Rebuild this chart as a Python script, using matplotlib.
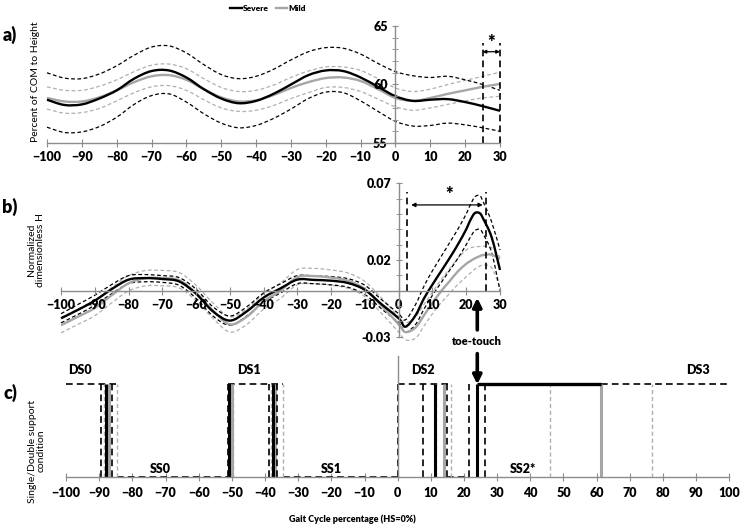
import matplotlib
matplotlib.use('Agg')
import matplotlib.pyplot as plt
from matplotlib.ticker import MultipleLocator, FixedLocator, FixedFormatter
from matplotlib.path import Path
from matplotlib.patches import PathPatch

plt.rcParams['font.family'] = ['Lato', 'DejaVu Sans']
plt.rcParams['font.weight'] = 'heavy'

# ---------------- data: panel a (COM height, % of height) ----------------
x_a = [-100, -95, -90, -85, -80, -75, -70, -65, -60, -55, -50, -45, -40, -35,
       -30, -25, -20, -15, -10, -5, 0, 5, 10, 15, 20, 25, 30]
severe_a = [58.7, 58.25, 58.3, 58.8, 59.5, 60.5, 61.15, 61.2, 60.6, 59.6, 58.8, 58.4, 58.6, 59.2,
            60.0, 60.8, 61.2, 61.15, 60.6, 59.8, 59.0, 58.6, 58.7, 58.75, 58.5, 58.15, 57.75]
severe_a_hi = [61.0, 60.55, 60.5, 60.9, 61.6, 62.5, 63.2, 63.3, 62.7, 61.7, 60.85, 60.5, 60.7, 61.3,
               62.1, 62.8, 63.15, 63.1, 62.6, 61.8, 61.1, 60.75, 60.6, 60.7, 60.4, 60.0, 59.5]
severe_a_lo = [56.35, 55.9, 55.95, 56.4, 57.2, 58.3, 59.05, 59.2, 58.5, 57.5, 56.7, 56.3, 56.5, 57.1,
               57.9, 58.8, 59.35, 59.3, 58.6, 57.7, 56.85, 56.45, 56.5, 56.7, 56.55, 56.3, 56.0]
mild_a = [58.85, 58.55, 58.55, 58.9, 59.5, 60.2, 60.7, 60.8, 60.4, 59.6, 58.9, 58.55, 58.65, 59.1,
          59.7, 60.2, 60.55, 60.6, 60.3, 59.6, 58.85, 58.6, 58.85, 59.2, 59.5, 59.8, 60.05]
mild_a_hi = [59.8, 59.5, 59.5, 59.85, 60.4, 61.1, 61.65, 61.75, 61.35, 60.5, 59.75, 59.4, 59.5, 59.95,
             60.6, 61.15, 61.5, 61.5, 61.2, 60.5, 59.7, 59.4, 59.6, 60.0, 60.35, 60.7, 61.05]
mild_a_lo = [57.9, 57.55, 57.6, 57.95, 58.6, 59.3, 59.8, 59.9, 59.5, 58.7, 58.0, 57.7, 57.8, 58.2,
             58.8, 59.3, 59.75, 59.75, 59.4, 58.75, 58.1, 57.8, 58.0, 58.3, 58.6, 58.85, 59.0]
sig_a = [25, 30]          # significant interval in panel a

# ---------------- data: panel b (normalized dimensionless H) ----------------
x_b = [-100, -95, -90, -85, -80, -75, -70, -65, -60, -55, -50, -45, -40, -35, -30, -25, -20,
       -15, -10, -5, 0, 2, 5, 7.5, 10, 12.5, 15, 17.5, 20, 21, 22.5, 24, 25, 27.5, 30]
severe_b = [-0.018, -0.0125, -0.0065, 0.001, 0.0072, 0.0082, 0.0076, 0.006, -0.002, -0.0135,
            -0.0195, -0.0135, -0.0045, 0.0015, 0.0072, 0.007, 0.0065, 0.005, 0.0005, -0.009,
            -0.018, -0.0235, -0.016, -0.005, 0.004, 0.0125, 0.021, 0.030, 0.040, 0.045, 0.0505,
            0.0505, 0.047, 0.035, 0.0135]
severe_b_hi = [-0.015, -0.009, -0.003, 0.004, 0.0098, 0.0105, 0.0098, 0.0085, 0.001, -0.0105,
               -0.0165, -0.0105, -0.0015, 0.0045, 0.0098, 0.0096, 0.0092, 0.0078, 0.0035, -0.006,
               -0.015, -0.019, -0.009, 0.003, 0.013, 0.022, 0.031, 0.040, 0.050, 0.055, 0.061,
               0.062, 0.058, 0.045, 0.0265]
severe_b_lo = [-0.021, -0.0155, -0.0095, -0.002, 0.0046, 0.0058, 0.0054, 0.0035, -0.005, -0.0165,
               -0.0225, -0.0165, -0.0075, -0.0015, 0.0046, 0.0045, 0.0038, 0.0022, -0.0025, -0.012,
               -0.021, -0.027, -0.022, -0.012, -0.003, 0.005, 0.013, 0.021, 0.030, 0.034, 0.039,
               0.040, 0.037, 0.025, 0.0]
mild_b = [-0.0225, -0.017, -0.0113, -0.003, 0.0048, 0.0081, 0.0082, 0.0068, -0.0015, -0.013,
          -0.022, -0.017, -0.007, 0.0, 0.0088, 0.0095, 0.0085, 0.0065, 0.001, -0.01,
          -0.022, -0.027, -0.024, -0.016, -0.008, -0.0005, 0.006, 0.0125, 0.0175, 0.019, 0.021,
          0.0225, 0.0232, 0.0235, 0.0207]
mild_b_hi = [-0.0175, -0.012, -0.0063, 0.002, 0.0098, 0.0131, 0.0132, 0.0118, 0.0035, -0.008,
             -0.017, -0.012, -0.002, 0.005, 0.0138, 0.0145, 0.0135, 0.0115, 0.006, -0.005,
             -0.017, -0.021, -0.017, -0.009, -0.001, 0.007, 0.014, 0.021, 0.0265, 0.0278, 0.0285,
             0.0288, 0.029, 0.028, 0.022]
mild_b_lo = [-0.0275, -0.022, -0.0163, -0.008, -0.0002, 0.0031, 0.0032, 0.0018, -0.0065, -0.018,
             -0.027, -0.022, -0.012, -0.005, 0.0038, 0.0045, 0.0035, 0.0015, -0.004, -0.015,
             -0.027, -0.032, -0.031, -0.023, -0.015, -0.008, -0.002, 0.004, 0.009, 0.011, 0.014,
             0.016, 0.0167, 0.015, 0.002]
sig_b = [2.6, 26]         # significant interval in panel b

# ---------------- data: panel c (support-phase transitions, % gait cycle) ----------------
c_sev_mean = [-88.0, -51.0, -37.7, 11.2, 24.0]
c_sev_lo = [-89.5, -51.3, -38.7, 7.7, 21.4]
c_sev_hi = [-86.1, -50.7, -36.3, 14.8, 26.4]
c_mild_mean = [-87.1, -50.1, -36.9, 14.0, 61.2]
c_mild_lo = [-88.5, -50.4, -38.2, 11.6, 46.0]
c_mild_hi = [-84.7, -49.6, -34.7, 16.1, 76.6]
heel_strike = 0
phase_labels = ['DS0', 'SS0', 'DS1', 'SS1', 'DS2', 'SS2*', 'DS3']
phase_label_x = [-95.8, -71.6, -45.0, -19.9, 7.7, 37.9, 90.6]
phase_label_level = [1, 0, 1, 0, 1, 0, 1]

# ---------------- style ----------------
W, H = 740, 526
AX = '#8c8c8c'
BLK = 'black'
GRY = '#a6a6a6'
GRYD = '#b0b0b0'
DASH = (0, (3, 2))
DASHC = (0, (4, 2.5))

fig = plt.figure(figsize=(W / 100, H / 100), dpi=100)


def box(l, r, t, b):
    return [l / W, 1 - b / H, (r - l) / W, (b - t) / H]


def style_axes(ax):
    for s in ['top', 'right']:
        ax.spines[s].set_visible(False)
    for s in ['left', 'bottom']:
        ax.spines[s].set_color(AX)
        ax.spines[s].set_linewidth(1.0)
    ax.patch.set_alpha(0)


def smooth_line(ax, x, y, **kw):
    """Excel-style smoothed line: cubic Bezier segments through the data points."""
    n = len(x)
    verts = [(x[0], y[0])]
    codes = [Path.MOVETO]
    for i in range(n - 1):
        p0 = (x[i - 1], y[i - 1]) if i > 0 else (x[i], y[i])
        p1 = (x[i], y[i])
        p2 = (x[i + 1], y[i + 1])
        p3 = (x[i + 2], y[i + 2]) if i + 2 < n else p2
        c1 = (p1[0] + (p2[0] - p0[0]) / 6, p1[1] + (p2[1] - p0[1]) / 6)
        c2 = (p2[0] - (p3[0] - p1[0]) / 6, p2[1] - (p3[1] - p1[1]) / 6)
        verts += [c1, c2, p2]
        codes += [Path.CURVE4] * 3
    patch = PathPatch(Path(verts, codes), fill=False, clip_on=False,
                      capstyle='butt', joinstyle='round', **kw)
    ax.add_patch(patch)
    return patch


# ================= panel a =================
ax_a = fig.add_axes(box(47, 500, 26, 143))
style_axes(ax_a)
ax_a.set_xlim(-100, 30)
ax_a.set_ylim(55, 65)
ax_a.spines['left'].set_position(('data', 0))
ax_a.set_xticks(range(-100, 31, 10))
ax_a.set_yticks([55, 60, 65])
ax_a.yaxis.set_minor_locator(MultipleLocator(1))
ax_a.tick_params(axis='x', direction='inout', length=6, color=AX, labelsize=9, pad=3)
ax_a.tick_params(axis='y', which='both', direction='inout', length=5, color=AX, labelsize=9, pad=3)

for y in (mild_a_hi, mild_a_lo):
    smooth_line(ax_a, x_a, y, edgecolor=GRYD, lw=0.9, linestyle=DASH)
for y in (severe_a_hi, severe_a_lo):
    smooth_line(ax_a, x_a, y, edgecolor=BLK, lw=0.9, linestyle=DASH)
smooth_line(ax_a, x_a, mild_a, edgecolor=GRY, lw=1.7)
smooth_line(ax_a, x_a, severe_a, edgecolor=BLK, lw=1.7)
l_sev, = ax_a.plot([], [], color=BLK, lw=1.7)
l_mild, = ax_a.plot([], [], color=GRY, lw=1.7)

ax_a.vlines(sig_a, 55, 63.55, colors=BLK, lw=1.2, linestyles=DASHC, clip_on=False)
ax_a.annotate('', xy=(sig_a[0], 62.8), xytext=(sig_a[1], 62.8),
              arrowprops=dict(arrowstyle='<|-|>', lw=0.9, color=BLK, mutation_scale=5,
                              shrinkA=0, shrinkB=0), annotation_clip=False)
ax_a.text(sum(sig_a) / 2, 63.6, '*', ha='center', va='center', fontsize=13)
ax_a.set_ylabel('Percent of COM to Height', fontsize=7.5)
ax_a.yaxis.set_label_coords((40 - 47) / 453, (143 - 82) / 117)

fig.legend(handles=[l_sev, l_mild], labels=['Severe', 'Mild'], loc='upper center',
           bbox_to_anchor=(268 / W, 1.005), ncol=2, frameon=False, fontsize=6,
           handlelength=1.4, handletextpad=0.15, columnspacing=0.8)

# ================= panel b =================
ax_b = fig.add_axes(box(61, 500, 183.3, 336.7))
style_axes(ax_b)
ax_b.set_xlim(-100, 30)
ax_b.set_ylim(-0.03, 0.07)
ax_b.spines['left'].set_position(('data', 0))
ax_b.spines['bottom'].set_position(('data', 0))
ax_b.set_xticks(range(-100, 31, 10))
ax_b.yaxis.set_major_locator(FixedLocator([-0.03, 0.02, 0.07]))
ax_b.yaxis.set_major_formatter(FixedFormatter(['-0.03', '0.02', '0.07']))
ax_b.yaxis.set_minor_locator(MultipleLocator(0.01))
ax_b.tick_params(axis='x', direction='inout', length=6, color=AX, labelsize=9, pad=3)
ax_b.tick_params(axis='y', which='both', direction='inout', length=5, color=AX, labelsize=9, pad=3)

for y in (mild_b_hi, mild_b_lo):
    smooth_line(ax_b, x_b, y, edgecolor=GRYD, lw=0.9, linestyle=DASH)
for y in (severe_b_hi, severe_b_lo):
    smooth_line(ax_b, x_b, y, edgecolor=BLK, lw=0.9, linestyle=DASH)
smooth_line(ax_b, x_b, mild_b, edgecolor=GRY, lw=1.7)
smooth_line(ax_b, x_b, severe_b, edgecolor=BLK, lw=1.7)

ax_b.vlines(sig_b, 0, 0.0645, colors=BLK, lw=1.2, linestyles=DASHC, clip_on=False)
ax_b.annotate('', xy=(sig_b[0] + 1.1, 0.0559), xytext=(sig_b[1] - 1.1, 0.0559),
              arrowprops=dict(arrowstyle='<|-|>', lw=0.9, color=BLK, mutation_scale=6,
                              shrinkA=0, shrinkB=0), annotation_clip=False)
ax_b.text(14.9, 0.0625, '*', ha='center', va='center', fontsize=13)
ax_b.set_ylabel('Normalized\ndimensionless H', fontsize=7.5, linespacing=1.0)
ax_b.yaxis.set_label_coords((45 - 61) / 439, (336.7 - 250) / 153.4)

# ================= panel c =================
ax_c = fig.add_axes(box(66.1, 729.3, 356.4, 477.3))
style_axes(ax_c)
ax_c.set_xlim(-100, 100)
ax_c.set_ylim(0, 1.3)
ax_c.spines['left'].set_position(('data', 0))
ax_c.set_yticks([])
ax_c.set_xticks(range(-100, 101, 10))
ax_c.tick_params(axis='x', direction='inout', length=6, color=AX, labelsize=9, pad=4)

sev_all = [c_sev_mean, c_sev_lo, c_sev_hi]
mild_all = [c_mild_mean, c_mild_lo, c_mild_hi]
all_tr = sev_all + mild_all
first_hi = max(t[0] for t in all_tr)
second_lo = min(t[1] for t in all_tr)
third_hi = max(t[2] for t in all_tr)
fourth_hi = max(t[3] for t in sev_all)
fifth_lo = min(t[4] for t in sev_all)

# horizontal envelope (dashed)
ax_c.hlines(1, -100, first_hi, colors=BLK, lw=1.2, linestyles=DASHC, clip_on=False)
ax_c.hlines(0, first_hi, second_lo, colors=BLK, lw=1.2, linestyles=DASHC, clip_on=False)
ax_c.hlines(1, second_lo, third_hi, colors=BLK, lw=1.2, linestyles=DASHC, clip_on=False)
ax_c.hlines(0, third_hi, heel_strike, colors=BLK, lw=1.2, linestyles=DASHC, clip_on=False)
ax_c.hlines(1, heel_strike, max(t[3] for t in all_tr), colors=BLK, lw=1.2, linestyles=DASHC, clip_on=False)
ax_c.hlines(0, fourth_hi, fifth_lo, colors=BLK, lw=1.2, linestyles=DASHC, clip_on=False)
ax_c.hlines(1, c_mild_mean[4], 100, colors=BLK, lw=1.2, linestyles=DASHC, clip_on=False)
ax_c.vlines(heel_strike, 0, 1, colors=BLK, lw=1.2, linestyles=DASHC, clip_on=False)

# vertical transitions
ax_c.vlines(c_mild_lo, 0, 1, colors=GRYD, lw=1.0, linestyles=DASH, clip_on=False)
ax_c.vlines(c_mild_hi, 0, 1, colors=GRYD, lw=1.0, linestyles=DASH, clip_on=False)
ax_c.vlines(c_mild_mean, 0, 1, colors=GRY, lw=2.2, clip_on=False)
ax_c.vlines(c_sev_lo, 0, 1, colors=BLK, lw=1.2, linestyles=DASHC, clip_on=False)
ax_c.vlines(c_sev_hi, 0, 1, colors=BLK, lw=1.2, linestyles=DASHC, clip_on=False)
ax_c.vlines(c_sev_mean, 0, 1, colors=BLK, lw=2.2, clip_on=False)
ax_c.hlines(1, c_sev_mean[4], c_mild_mean[4], colors=BLK, lw=2.4, clip_on=False)

for lab, lx, lv in zip(phase_labels, phase_label_x, phase_label_level):
    ax_c.text(lx, lv + 0.15 if lv == 1 else 0.09, lab, ha='center', va='center', fontsize=9)

ax_c.set_ylabel('Single/Double support\ncondition', fontsize=7.5, linespacing=1.05)
ax_c.yaxis.set_label_coords((46 - 66.1) / 663.2, (477.3 - 451) / 120.9)
fig.text(352 / W, 1 - 519 / H, 'Gait Cycle percentage (HS=0%)', ha='center', va='center',
         fontsize=6.5)

# toe-touch arrows
arrow_kw = dict(arrowstyle='-|>', lw=2.6, color=BLK, mutation_scale=13, shrinkA=0, shrinkB=0)
ax_c.annotate('', xy=(c_sev_mean[4], 1.0), xytext=(c_sev_mean[4], 1.33),
              arrowprops=arrow_kw, annotation_clip=False)
ax_c.annotate('', xy=(c_sev_mean[4], 1.93), xytext=(c_sev_mean[4], 1.585),
              arrowprops=arrow_kw, annotation_clip=False)
ax_c.text(c_sev_mean[4], 1.465, 'toe-touch', ha='center', va='center', fontsize=8)

# panel letters
fig.text(10 / W, 1 - 35 / H, 'a)', ha='center', va='center', fontsize=13)
fig.text(10 / W, 1 - 207 / H, 'b)', ha='center', va='center', fontsize=13)
fig.text(10 / W, 1 - 393 / H, 'c)', ha='center', va='center', fontsize=13)

fig.savefig('out.png', dpi=100)
